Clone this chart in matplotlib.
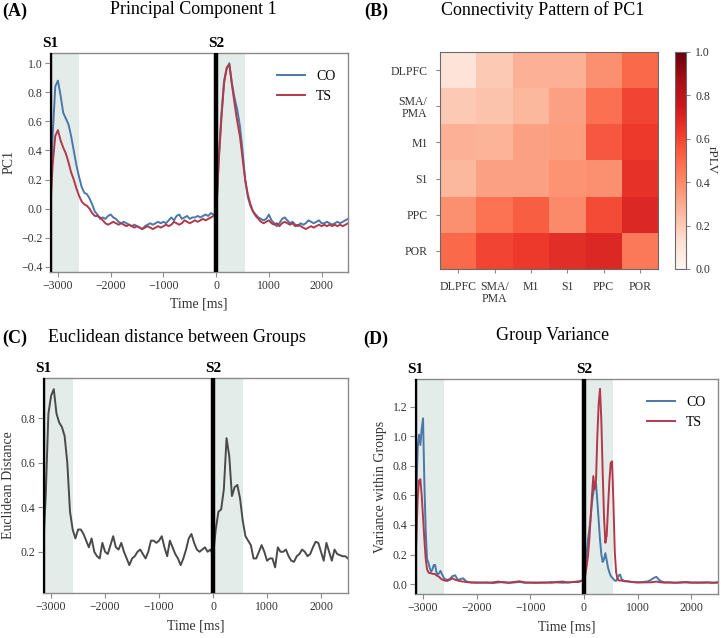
import numpy as np
import matplotlib
matplotlib.use("Agg")
import matplotlib.pyplot as plt
import matplotlib.transforms as mtransforms

plt.rcParams['font.family'] = ['Liberation Serif', 'DejaVu Serif']
plt.rcParams['axes.unicode_minus'] = True

# ---------------- data ----------------
S1_TIME = -3150
S2_TIME = 0
WIN = 550

t_a = np.arange(-3150, 2501, 50)
pc1_co = [
    0.00, 0.50, 0.84, 0.88, 0.78, 0.66, 0.62, 0.58, 0.50, 0.40,
    0.30, 0.22, 0.15, 0.11, 0.10, 0.07, 0.03, -0.02, -0.04, -0.07,
    -0.06, -0.07, -0.05, -0.04, -0.06, -0.07, -0.09, -0.10, -0.09, -0.10,
    -0.11, -0.12, -0.11, -0.12, -0.13, -0.14, -0.12, -0.11, -0.10, -0.11,
    -0.10, -0.09, -0.10, -0.09, -0.10, -0.08, -0.06, -0.08, -0.05, -0.04,
    -0.07, -0.06, -0.05, -0.07, -0.06, -0.06, -0.05, -0.06, -0.05, -0.04,
    -0.05, -0.03, -0.04, -0.04,
    0.35, 0.65, 0.88, 0.96, 1.00, 0.86, 0.76, 0.68, 0.57, 0.40,
    0.20, 0.08, 0.02, -0.02, -0.04, -0.06, -0.07, -0.08, -0.07, -0.04,
    -0.08, -0.10, -0.12, -0.10, -0.07, -0.06, -0.08, -0.10, -0.09, -0.11,
    -0.12, -0.10, -0.11, -0.10, -0.08, -0.09, -0.10, -0.09, -0.08, -0.10,
    -0.10, -0.09, -0.10, -0.11, -0.10, -0.09, -0.10, -0.09, -0.08, -0.07,
]
pc1_ts = [
    -0.05, 0.30, 0.50, 0.54, 0.47, 0.42, 0.38, 0.32, 0.25, 0.20,
    0.14, 0.09, 0.05, 0.03, 0.02, 0.00, -0.03, -0.05, -0.05, -0.06,
    -0.08, -0.10, -0.11, -0.10, -0.09, -0.10, -0.11, -0.10, -0.11, -0.12,
    -0.11, -0.12, -0.13, -0.12, -0.13, -0.14, -0.13, -0.12, -0.13, -0.14,
    -0.13, -0.12, -0.13, -0.12, -0.11, -0.12, -0.11, -0.09, -0.10, -0.11,
    -0.10, -0.08, -0.09, -0.10, -0.09, -0.08, -0.09, -0.08, -0.07, -0.08,
    -0.07, -0.06, -0.05, -0.05,
    0.33, 0.62, 0.86, 0.97, 0.99, 0.85, 0.72, 0.60, 0.50, 0.35,
    0.20, 0.10, 0.03, -0.02, -0.05, -0.07, -0.09, -0.10, -0.09, -0.08,
    -0.10, -0.11, -0.10, -0.12, -0.10, -0.09, -0.10, -0.11, -0.10, -0.12,
    -0.11, -0.12, -0.13, -0.14, -0.13, -0.12, -0.13, -0.12, -0.11, -0.12,
    -0.11, -0.12, -0.11, -0.12, -0.11, -0.12, -0.11, -0.12, -0.11, -0.10,
]

regions = ['DLPFC', 'SMA/\nPMA', 'M1', 'S1', 'PPC', 'POR']
rplv = [
    [0.10, 0.20, 0.28, 0.28, 0.38, 0.50],
    [0.20, 0.22, 0.26, 0.33, 0.48, 0.60],
    [0.28, 0.27, 0.33, 0.34, 0.55, 0.63],
    [0.26, 0.33, 0.33, 0.37, 0.38, 0.66],
    [0.38, 0.47, 0.53, 0.40, 0.58, 0.69],
    [0.50, 0.60, 0.63, 0.67, 0.69, 0.45],
]

t_c = np.arange(-3150, 2501, 50)
eucl = [
    0.20, 0.45, 0.82, 0.90, 0.93, 0.82, 0.78, 0.76, 0.72, 0.60,
    0.38, 0.30, 0.26, 0.30, 0.30, 0.28, 0.25, 0.22, 0.26, 0.20,
    0.18, 0.17, 0.24, 0.20, 0.19, 0.23, 0.27, 0.22, 0.21, 0.24,
    0.20, 0.17, 0.14, 0.17, 0.18, 0.20, 0.21, 0.19, 0.17, 0.20,
    0.25, 0.25, 0.24, 0.25, 0.27, 0.22, 0.18, 0.25, 0.22, 0.19,
    0.17, 0.14, 0.17, 0.21, 0.26, 0.28, 0.24, 0.21, 0.20, 0.21,
    0.22, 0.20, 0.21, 0.185,
    0.30, 0.38, 0.39, 0.48, 0.71, 0.63, 0.45, 0.49, 0.50, 0.44,
    0.34, 0.27, 0.25, 0.23, 0.17, 0.17, 0.20, 0.23, 0.20, 0.16,
    0.17, 0.17, 0.13, 0.22, 0.20, 0.20, 0.21, 0.18, 0.16, 0.155,
    0.18, 0.19, 0.21, 0.20, 0.18, 0.19, 0.22, 0.245, 0.24, 0.20,
    0.16, 0.24, 0.20, 0.16, 0.21, 0.19, 0.185, 0.18, 0.18, 0.17,
]

t_d = [
    -3150, -3125, -3100, -3075, -3050, -3025, -3000, -2975, -2950, -2925,
    -2900, -2875, -2850, -2825, -2800, -2775, -2750, -2725, -2700, -2675,
    -2650, -2600, -2550, -2500, -2450, -2400, -2350, -2300, -2250, -2200,
    -2150, -2100, -2000, -1900, -1800, -1700, -1600, -1500, -1400, -1300,
    -1200, -1100, -1000, -900, -800, -700, -600, -500, -400, -300,
    -200, -100, 0,
    25, 50, 75, 100, 125, 150, 175, 200, 225, 250,
    275, 300, 325, 350, 375, 400, 425, 450, 475, 500,
    525, 550, 575, 600, 625, 650, 675, 700, 750, 800,
    900, 1000, 1100, 1200, 1250, 1300, 1350, 1400, 1450, 1500,
    1600, 1700, 1800, 1900, 2000, 2100, 2200, 2300, 2400, 2500,
]
var_co = [
    0.05, 0.60, 0.92, 1.01, 0.94, 1.05, 1.12, 0.68, 0.35, 0.17,
    0.145, 0.11, 0.085, 0.10, 0.13, 0.13, 0.08, 0.065, 0.075, 0.09,
    0.07, 0.035, 0.03, 0.035, 0.055, 0.06, 0.028, 0.035, 0.04, 0.02,
    0.015, 0.012, 0.012, 0.010, 0.012, 0.008, 0.012, 0.015, 0.010, 0.012,
    0.015, 0.010, 0.012, 0.008, 0.012, 0.010, 0.015, 0.012, 0.010, 0.012,
    0.015, 0.020, 0.025,
    0.10, 0.20, 0.30, 0.37, 0.45, 0.55, 0.62, 0.67, 0.68, 0.56,
    0.43, 0.30, 0.20, 0.15, 0.17, 0.21, 0.16, 0.11, 0.08, 0.056,
    0.045, 0.035, 0.025, 0.022, 0.04, 0.06, 0.065, 0.035, 0.022, 0.02,
    0.015, 0.013, 0.015, 0.02, 0.03, 0.042, 0.05, 0.03, 0.018, 0.012,
    0.012, 0.010, 0.012, 0.012, 0.010, 0.012, 0.010, 0.012, 0.010, 0.012,
]
var_ts = [
    0.05, 0.30, 0.58, 0.70, 0.71, 0.60, 0.45, 0.30, 0.17, 0.10,
    0.08, 0.075, 0.075, 0.07, 0.07, 0.068, 0.06, 0.055, 0.05, 0.04,
    0.033, 0.025, 0.022, 0.03, 0.04, 0.03, 0.025, 0.02, 0.018, 0.015,
    0.013, 0.012, 0.010, 0.012, 0.010, 0.012, 0.018, 0.012, 0.010, 0.015,
    0.020, 0.012, 0.010, 0.012, 0.010, 0.012, 0.010, 0.015, 0.018, 0.012,
    0.015, 0.015, 0.03,
    0.06, 0.12, 0.19, 0.30, 0.45, 0.60, 0.73, 0.64, 0.70, 1.00,
    1.22, 1.32, 1.10, 0.75, 0.45, 0.28, 0.33, 0.52, 0.70, 0.82,
    0.83, 0.55, 0.22, 0.08, 0.04, 0.025, 0.025, 0.025, 0.02, 0.02,
    0.015, 0.012, 0.012, 0.013, 0.013, 0.015, 0.018, 0.015, 0.012, 0.012,
    0.012, 0.010, 0.012, 0.015, 0.012, 0.010, 0.012, 0.012, 0.010, 0.012,
]

# ---------------- style ----------------
C_CO = '#4a78a8'
C_TS = '#b2394a'
C_SHADE = '#e4ecea'
C_SPINE = '#8a8a8a'
W, H = 721, 638

fig = plt.figure(figsize=(W / 100, H / 100), dpi=100)


def ax_px(l, t, r, b):
    return fig.add_axes([l / W, 1 - b / H, (r - l) / W, (b - t) / H])


def style_time_axis(ax, ylabel, xlabelpad):
    ax.set_xlim(S1_TIME, 2500)
    ax.set_xticks([-3000, -2000, -1000, 0, 1000, 2000])
    for s in ax.spines.values():
        s.set_color(C_SPINE)
        s.set_linewidth(1.0)
    ax.tick_params(labelsize=8.5, length=3.5, pad=2, color=C_SPINE, labelcolor='#333333')
    ax.set_xlabel('Time [ms]', fontsize=10, labelpad=xlabelpad, color='#333333')
    ax.set_ylabel(ylabel, fontsize=10, color='#333333')
    ax.axvspan(S1_TIME, S1_TIME + WIN, color=C_SHADE, zorder=0, lw=0)
    ax.axvspan(S2_TIME, S2_TIME + WIN, color=C_SHADE, zorder=0, lw=0)
    ax.axvline(S1_TIME, color='black', lw=3.2, zorder=5)
    ax.axvline(S2_TIME, color='black', lw=3.2, zorder=5)
    trans = mtransforms.blended_transform_factory(ax.transData, ax.transAxes)
    ax.text(S1_TIME, 1.015, 'S1', transform=trans, ha='center', va='bottom',
            fontsize=11, fontweight='bold')
    ax.text(S2_TIME, 1.015, 'S2', transform=trans, ha='center', va='bottom',
            fontsize=11, fontweight='bold')


# ---- (A) ----
axA = ax_px(50, 53, 348, 272)
axA.plot(t_a, pc1_co, color=C_CO, lw=1.4, label='CO')
axA.plot(t_a, pc1_ts, color=C_TS, lw=1.4, label='TS')
style_time_axis(axA, 'PC1', 4)
axA.set_ylim(-0.435, 1.07)
axA.set_yticks(np.round(np.arange(-0.4, 1.01, 0.2), 1))
axA.legend(loc='upper right', frameon=False, fontsize=10, handlelength=2.0,
           bbox_to_anchor=(1.0, 0.98))

# ---- (B) ----
axB = ax_px(440, 52, 658, 269)
im = axB.imshow(np.array(rplv), cmap='Reds', vmin=0, vmax=1, aspect='auto')
axB.set_xticks(range(len(regions)))
axB.set_yticks(range(len(regions)))
axB.set_xticklabels(regions, fontsize=8.5, color='#333333', linespacing=1.0)
axB.set_yticklabels(regions, fontsize=8.5, color='#333333', linespacing=1.0)
axB.tick_params(length=3, color=C_SPINE, pad=6)
for s in axB.spines.values():
    s.set_color('#6a6a6a')
cax = ax_px(675, 52, 686, 269)
cb = fig.colorbar(im, cax=cax)
cb.set_ticks([0.0, 0.2, 0.4, 0.6, 0.8, 1.0])
cb.ax.tick_params(labelsize=8.5, length=3, color=C_SPINE, labelcolor='#333333')
cb.outline.set_edgecolor('#6a6a6a')
cb.set_label('rPLV', rotation=270, fontsize=9.5, labelpad=6, color='#333333')

# ---- (C) ----
axC = ax_px(43, 378, 348, 593)
axC.plot(t_c, eucl, color='#4a4a4a', lw=1.4)
style_time_axis(axC, 'Euclidean Distance', 5)
axC.set_ylim(0.015, 0.98)
axC.set_yticks([0.2, 0.4, 0.6, 0.8])

# ---- (D) ----
axD = ax_px(415, 379, 718, 594)
axD.plot(t_d, var_co, color=C_CO, lw=1.4, label='CO')
axD.plot(t_d, var_ts, color=C_TS, lw=1.4, label='TS')
style_time_axis(axD, 'Variance within Groups', 5)
axD.set_ylim(-0.066, 1.386)
axD.set_yticks([0.0, 0.2, 0.4, 0.6, 0.8, 1.0, 1.2])
axD.legend(loc='upper right', frameon=False, fontsize=10, handlelength=2.0,
           bbox_to_anchor=(1.0, 0.98))

# ---- titles / panel letters ----
def ftext(x, y, s, **kw):
    fig.text(x / W, 1 - y / H, s, va='center', **kw)

ftext(2, 11, '(A)', fontsize=13, fontweight='bold', ha='left')
ftext(193, 10, 'Principal Component 1', fontsize=13, ha='center')
ftext(364, 11, '(B)', fontsize=13, fontweight='bold', ha='left')
ftext(543, 10, 'Connectivity Pattern of PC1', fontsize=13, ha='center')
ftext(2, 338, '(C)', fontsize=13, fontweight='bold', ha='left')
ftext(177, 337, 'Euclidean distance between Groups', fontsize=13, ha='center')
ftext(363, 339, '(D)', fontsize=13, fontweight='bold', ha='left')
ftext(553, 336, 'Group Variance', fontsize=13, ha='center')

fig.savefig('out.png', dpi=100)
